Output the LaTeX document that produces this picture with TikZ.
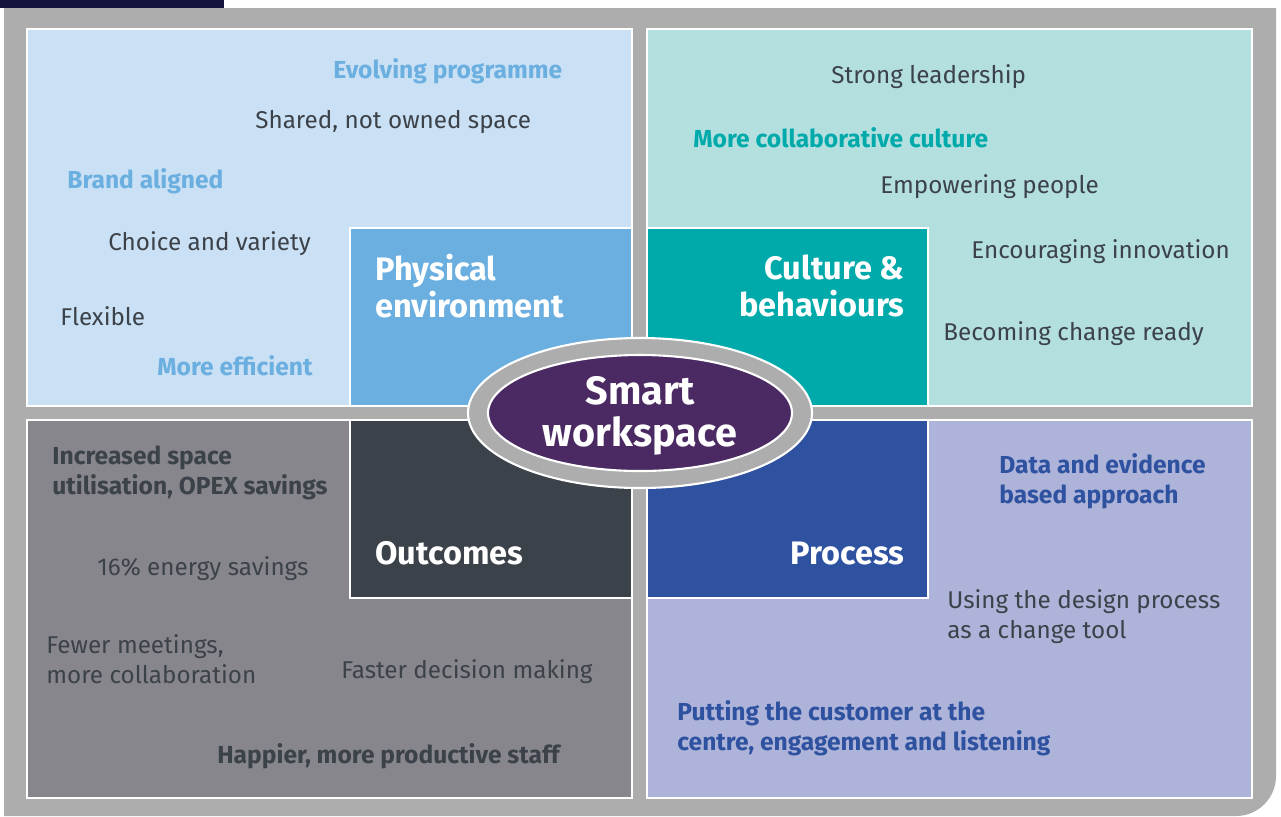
\documentclass[tikz,border=0pt]{standalone}
\usepackage{fontspec}
\setmainfont{Fira Sans}
\definecolor{framegray}{HTML}{ADADAD}
\definecolor{navybar}{HTML}{14133C}
\definecolor{txt}{HTML}{3C4249}
\definecolor{physbg}{HTML}{CAE0F4}
\definecolor{physfg}{HTML}{6AAFE0}
\definecolor{cultbg}{HTML}{B3DFDF}
\definecolor{cultfg}{HTML}{00A9AA}
\definecolor{outbg}{HTML}{87868C}
\definecolor{outfg}{HTML}{3C4249}
\definecolor{procbg}{HTML}{AEB3DA}
\definecolor{procfg}{HTML}{2E52A0}
\definecolor{smartfill}{HTML}{4B2A63}
\begin{document}
\begin{tikzpicture}[x=0.02cm,y=-0.02cm,
    panel/.style={draw=white,line width=1.2pt},
    item/.style={anchor=west,inner sep=0pt,text=txt,align=left,font=\fontsize{13.8}{17}\selectfont},
    keyitem/.style={item,font=\fontsize{14}{17}\selectfont\bfseries},
    head/.style={inner sep=0pt,text=white,font=\fontsize{18.5}{21}\selectfont\bfseries}]
  \useasboundingbox (0,0) rectangle (1281,816);
  \fill[navybar] (0,0) rectangle (224,8);
  \fill[framegray] (4,8) -- (1276,8) [rounded corners=0.8cm] -- (1276,816) [sharp corners] -- (4,816) -- cycle;

  \filldraw[panel,fill=physbg] (27,29) rectangle (632,406);
  \filldraw[panel,fill=cultbg] (647,29) rectangle (1252,406);
  \filldraw[panel,fill=outbg] (27,420) rectangle (632,798);
  \filldraw[panel,fill=procbg] (647,420) rectangle (1252,798);

  \filldraw[panel,fill=physfg] (350,228) rectangle (632,406);
  \filldraw[panel,fill=cultfg] (647,228) rectangle (928,406);
  \filldraw[panel,fill=outfg] (350,420) rectangle (632,598);
  \filldraw[panel,fill=procfg] (647,420) rectangle (928,598);

  \filldraw[panel,fill=framegray] (640,413) ellipse [x radius=172, y radius=75];
  \filldraw[panel,fill=smartfill] (640,413) ellipse [x radius=152, y radius=58];
  \node[head,align=center,font=\fontsize{22.5}{24}\selectfont\bfseries] (smart) at (640,416) {Smart\\workspace};

  \node[head,anchor=west,align=left] (phys) at (375,286) {Physical\\environment};
  \node[head,anchor=east,align=right] (cult) at (905,286) {Culture \&\\behaviours};
  \node[head,anchor=west] (outc) at (375,553) {Outcomes};
  \node[head,anchor=east] (proc) at (905,553) {Process};

  \node[keyitem,text=physfg] (evolve) at (333,71) {Evolving programme};
  \node[item] (shared) at (255,122) {Shared, not owned space};
  \node[keyitem,text=physfg] (brand) at (67,181) {Brand aligned};
  \node[item] (choice) at (108,244) {Choice and variety};
  \node[item] (flex) at (60,316) {Flexible};
  \node[keyitem,text=physfg] (effic) at (157,366) {More efficient};

  \node[item] (lead) at (831,77) {Strong leadership};
  \node[keyitem,text=cultfg] (collab) at (693,138) {More collaborative culture};
  \node[item] (empower) at (880,187) {Empowering people};
  \node[item] (innov) at (971,252) {Encouraging innovation};
  \node[item] (ready) at (943,334) {Becoming change ready};

  \node[keyitem] (space) at (52,473) {Increased space\\utilisation, OPEX savings};
  \node[item] (energy) at (97,569) {16\% energy savings};
  \node[item] (meet) at (46,659) {Fewer meetings,\\more collaboration};
  \node[item] (faster) at (341,672) {Faster decision making};
  \node[keyitem] (happy) at (217,756) {Happier, more productive staff};

  \node[keyitem,text=procfg] (data) at (999,481) {Data and evidence\\based approach};
  \node[item] (design) at (947,617) {Using the design process\\as a change tool};
  \node[keyitem,text=procfg] (cust) at (677,728) {Putting the customer at the\\centre, engagement and listening};
\end{tikzpicture}
\end{document}
